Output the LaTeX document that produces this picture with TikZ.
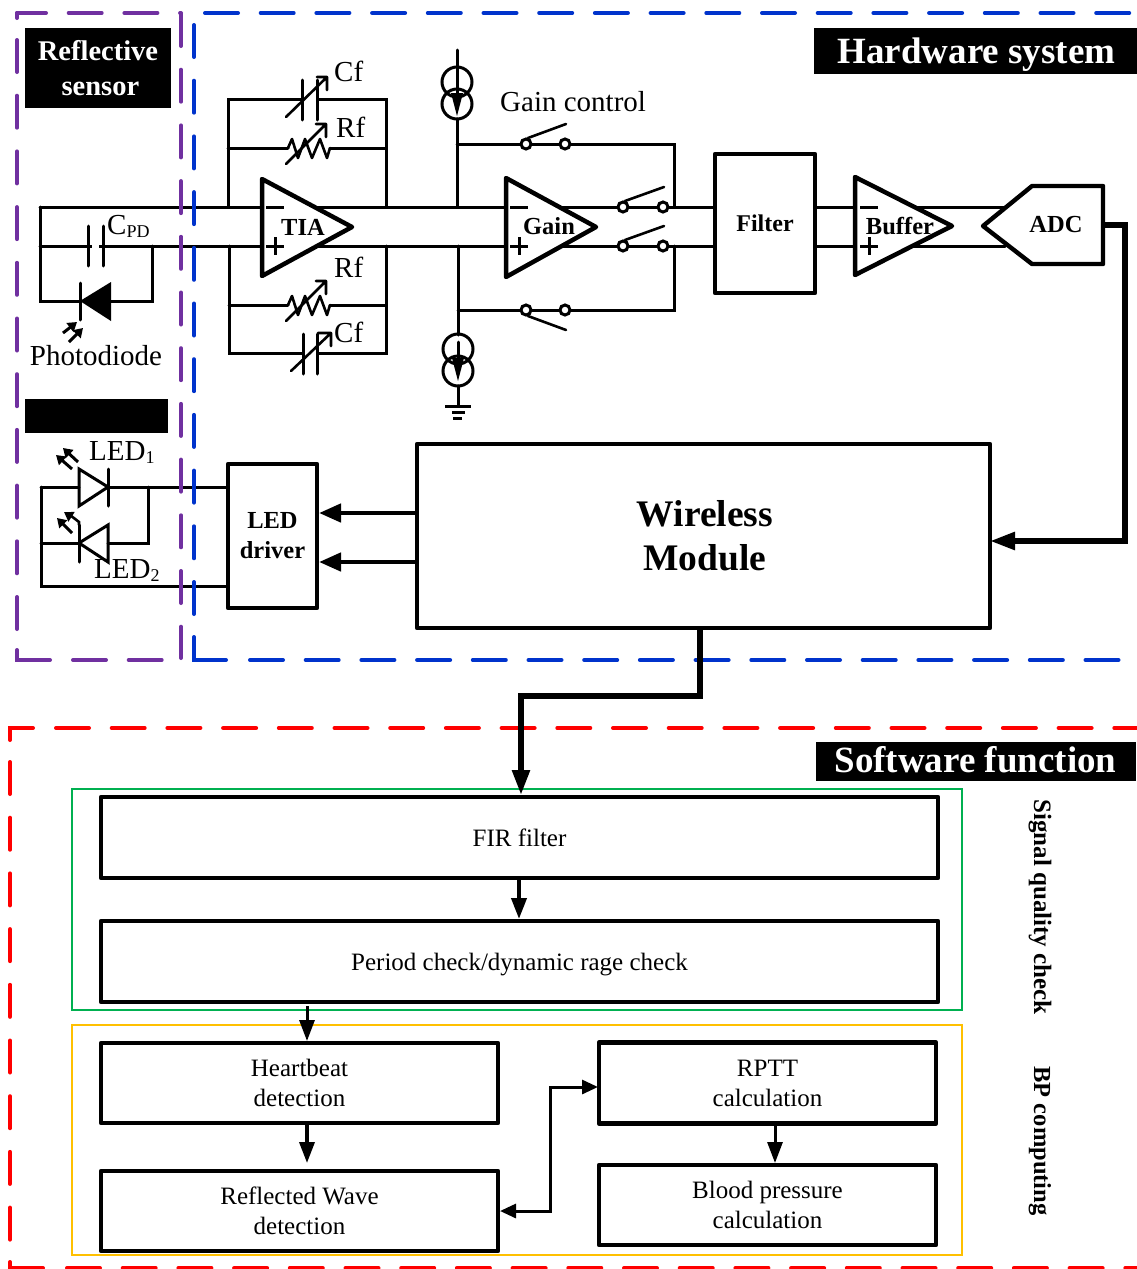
\documentclass[tikz,border=0pt]{standalone}
\usepackage{fontspec}
\setmainfont{Liberation Serif}
\usetikzlibrary{arrows.meta}
\definecolor{purp}{HTML}{7030A0}
\definecolor{blu}{HTML}{0033CC}
\definecolor{grn}{HTML}{00B050}
\definecolor{org}{HTML}{FFC000}
\newcommand\fs[1]{\fontsize{#1}{#1}\selectfont}
\newcommand\sbs[1]{\raisebox{-3.5pt}{\fs{18}#1}}
\tikzset{
  wire/.style={line width=3pt,line join=miter,line cap=round},
  thinw/.style={line width=2.6pt,line join=round,line cap=round},
  amp/.style={line width=4.5pt,line join=round,fill=white,draw},
  blk/.style={draw,line width=4.4pt,fill=white,inner sep=0pt,outer sep=0pt,line join=round,align=center},
  dsh/.style={line width=4pt,line cap=round,dash pattern=on 32pt off 23.7pt},
  dsh2/.style={line width=4pt,line cap=round,dash pattern=on 33pt off 22.7pt},
  sld/.style={line width=4pt,line cap=round,line join=miter},
  lab/.style={inner sep=0pt,font=\fs{29}},
  blab/.style={inner sep=0pt,font=\bfseries\fs{24.5}},
  tag/.style={fill=black,text=white,inner sep=0pt,outer sep=0pt,align=center,font=\bfseries},
  tagt/.style={text=white,inner sep=0pt,anchor=base,font=\bfseries\fs{37}},
  boxt/.style={font=\fontsize{25}{30}\selectfont},
  grp/.style={draw,line width=1.8pt},
  bigar/.style={line width=5.5pt,line join=miter,-{Triangle[length=25pt,width=17pt]}},
  midar/.style={line width=4.5pt,line join=miter,-{Triangle[length=22pt,width=18pt]}},
  smlar/.style={line width=3pt,line join=miter,-{Triangle[length=21pt,width=15pt]}},
  tinar/.style={line width=3pt,-{Triangle[length=9pt,width=11pt]}},
  sw/.style={circle,draw,line width=3pt,fill=white,minimum size=10pt,inner sep=0pt,outer sep=0pt},
  src/.style={circle,draw,line width=3pt,minimum size=30pt,inner sep=0pt,outer sep=0pt},
}
% variable resistor: centre of wire at #1,#2
\newcommand\varres[2]{\begin{scope}[shift={(#1,#2)}]
 \draw[thinw] (0,0)--(4,-9)--(10,10)--(17,-9)--(24,10)--(32,-9)--(39,10)--(42,0);
 \draw[thinw] (-2,16)--(38,-24) (28,-24)--(38,-24)--(38,-11);
\end{scope}}
\newcommand\plusminus[2]{\draw[line width=3pt] (#1,207)--(#1+18,207) (#1,#2)--(#1+18,#2) (#1+9,#2-9)--(#1+9,#2+9);}
\begin{document}
\begin{tikzpicture}[x=1pt,y=-1pt]
\useasboundingbox[fill=white] (0,0) rectangle (1137,1269);

% ---- junction coordinates of the analog front end
\foreach \n/\x/\y in {
 pdTL/40/207,pdML/40/246,pdBL/40/301,pdBR/152/301,pdMR/152/246,
 capA/88/246,capB/103/246,diK/80/301,diA/111/301,
 tiaT/262/207,tiaB/262/246,tiaOT/314/207,tiaOB/314/246,
 fbTL/228/207,fbTLt/228/99,fbTLm/228/148,fbTR/386/207,fbTRt/386/99,fbTRm/386/148,
 fbBL/229/246,fbBLb/229/353,fbBLm/229/305,fbBR/386/246,fbBRb/386/353,fbBRm/386/305,
 cfA/302/99,cfB/317/99,rfA/288/148,rfB/330/148,rfC/288/305,rfD/330/305,cfC/303/353,cfD/317/353,
 gnT/506/207,gnB/506/246,jT/457/207,jB/458/246,
 vdd/457/50,srcTop/457/119,jS1/457/144,jS2/458/310,srcBot/458/335,srcOut/458/386,gndP/458/406,
 gnOT/560/207,gnOB/560/246,fiT/715/207,fiB/715/246,sr1/674/144,sr2/674/207,sr3/674/246,sr4/674/310,
 fiOT/815/207,fiOB/815/246,bfT/855/207,bfB/855/246,bfOT/914/207,bfOB/914/246,adT/1005/207,adB/1005/246,
 ledL/41/487,ledLb/41/586,ledM/41/543,led1A/79/487,led1K/108/487,led2K/79/543,led2A/108/543,ledRj/148/487,ledRb/148/543,
 dr1/228/487,dr2/228/586}
 {\coordinate (\n) at (\x,\y);}

% ---- wires
\draw[wire] (pdTL)--(tiaT) (pdML)--(tiaB);
\draw[wire] (pdTL)--(pdBL)--(diK) (diA)--(pdBR)--(pdMR);
\draw[wire] (fbTL)--(fbTLt)--(cfA) (cfB)--(fbTRt)--(fbTR);
\draw[wire] (fbTLm)--(rfA) (rfB)--(fbTRm);
\draw[wire] (fbBL)--(fbBLb)--(cfC) (cfD)--(fbBRb)--(fbBR);
\draw[wire] (fbBLm)--(rfC) (rfD)--(fbBRm);
\draw[wire] (tiaOT)--(gnT) (tiaOB)--(gnB);
\draw[wire] (srcTop)--(jT) (jB)--(srcBot) (srcOut)--(gndP);
\draw[wire] (vdd)--(457,95);
\draw[wire] (458,342)--(458,358);
\draw[wire] (jS1)--(sr1)--(sr2) (sr3)--(sr4)--(jS2);
\draw[wire] (gnOT)--(fiT) (gnOB)--(fiB);
\draw[wire] (fiOT)--(bfT) (fiOB)--(bfB) (bfOT)--(adT) (bfOB)--(adB);
\draw[wire] (ledL)--(led1A) (led1K)--(dr1) (ledM)--(led2K) (led2A)--(ledRb)--(ledRj);
\draw[wire] (ledL)--(ledLb)--(dr2);

% ---- capacitor with photodiode
\draw[line width=6pt,white] (92,246)--(99,246);
\draw[wire] (88,226)--(88,266) (103,226)--(103,266);
\draw[wire] (80,283)--(80,320);
\fill (80,301)--(111,282)--(111,321)--cycle;
\draw[tinar] (63,333)--(77,322);
\draw[tinar] (69,342)--(83,328);

% ---- feedback parts
\draw[line width=2pt,white] (cfA)--(cfB) (cfC)--(cfD);
\draw[wire] (302,80)--(302,120) (317,80)--(317,120);
\draw[thinw] (286,117)--(327,77) (317,77)--(327,77)--(327,90);
\varres{288}{148}
\varres{288}{305}
\draw[wire] (303,334)--(303,374) (317,334)--(317,374);
\draw[thinw] (291,371)--(331,333) (318,333)--(331,333)--(331,346);

% ---- switches
\foreach \nm/\xa/\xb/\yy/\d in {sa/526/565/144/-1,sb/526/565/310/1,sc/623/663/207/-1,sd/623/663/246/-1}{
 \draw[thinw] (\xa+2,\yy+\d*6)--(\xb+1,\yy+\d*20);
 \node[sw] (\nm1) at (\xa,\yy) {};
 \node[sw] (\nm2) at (\xb,\yy) {};
}

% ---- current sources and ground
\node[src] (s1) at (457,82) {};
\node[src] (s2) at (457,104) {};
\fill (451,93)--(463,93)--(457,116)--cycle;
\node[src] (s3) at (458,349) {};
\node[src] (s4) at (458,371) {};
\fill (452,358)--(464,358)--(458,381)--cycle;
\draw[line width=3pt] (445,406)--(471,406) (452,412)--(465,412) (453,418)--(462,418);

% ---- LEDs
\draw[line width=3pt,line join=miter] (79,469)--(79,506)--(108,487)--cycle;
\draw[wire] (108,469)--(108,506);
\draw[tinar] (72,469)--(56,455);
\draw[tinar] (78,462)--(63,448);
\draw[line width=3pt,line join=miter] (108,525)--(108,562)--(79,543)--cycle;
\draw[wire] (79,525)--(79,562);
\draw[tinar] (72,533)--(57,518);
\draw[line width=2.6pt,line join=miter] (79,525)--(79,522)--(70,515);
\draw[tinar] (71,516.5)--(64,512);

% ---- amplifiers
\draw[amp] (262,179)--(352,227)--(262,276)--cycle;
\plusminus{266}{246}
\node[blab] (tia) at (303,227) {TIA};
\draw[amp] (506,178)--(596,227)--(506,277)--cycle;
\plusminus{510}{246}
\node[blab] (gain) at (549,226) {Gain};
\draw[amp] (855,177)--(952,226)--(855,275)--cycle;
\plusminus{860}{246}
\node[blab] (buf) at (900,226) {Buffer};

% ---- blocks
\node[blk,minimum width=100pt,minimum height=139pt,font=\bfseries\fs{24}] (fil) at (765,223.5) {Filter};
\draw[line width=4.4pt,line join=round,fill=white] (983,226)--(1032,186)--(1103,186)--(1103,264)--(1032,264)--cycle;
\node[blab] (adc) at (1056,225) {ADC};
\coordinate (adcO) at (1103,225);
\node[blk,minimum width=573pt,minimum height=184pt,font=\bfseries\fontsize{37.5}{44}\selectfont] (wm) at (703.5,536) {\hspace*{3pt}Wireless\\\hspace*{3pt}Module};
\node[blk,minimum width=89pt,minimum height=144pt,font=\bfseries\fontsize{24.5}{30}\selectfont] (drv) at (272.5,536) {LED\\driver};

% ---- thick connectors of the hardware part
\draw[bigar] (adcO)--(1125,225)--(1125,541)--(wm.east |- 0,541);
\draw[midar] (wm.west |- 0,513)--([xshift=2pt]drv.east |- 0,513);
\draw[midar] (wm.west |- 0,562)--([xshift=2pt]drv.east |- 0,562);

% ---- dashed frames
\draw[purp,dsh2,dash phase=4pt] (17,13)--(181,13);
\draw[purp,sld] (17,13)--(17,18);
\draw[purp,dsh] (17,40)--(17,634);
\draw[purp,sld] (17,650)--(17,660)--(50,660);
\draw[purp,dsh2] (73,660)--(165,660);
\draw[purp,dsh,dash pattern=on 32pt off 23.7pt,dash phase=0pt] (181,14)--(181,658);
\draw[blu,dsh] (194,25)--(194,620);
\draw[blu,sld] (194,637)--(194,660)--(226,660);
\draw[blu,dsh2] (250,660)--(1120,660);
\draw[blu,dsh2] (205,13)--(1137,13);
\draw[red,sld] (10,740)--(10,728)--(33,728);
\draw[red,dsh2] (56,728)--(1137,728);
\draw[red,dsh] (10,762)--(10,1245);
\draw[red,sld] (10,1262)--(10,1268)--(43,1268);
\draw[red,dsh2] (67,1268)--(1137,1268);

% ---- black title bars
\node[tag,minimum width=146pt,minimum height=80pt,font=\bfseries\fontsize{28.5}{34.5}\selectfont] (refl) at (98,68) {Reflective\\\,sensor};
\node[tag,minimum width=143pt,minimum height=34pt] (ledbar) at (96.5,416) {};
\node[tag,minimum width=323pt,minimum height=46pt] (hw) at (975.5,51) {};
\node[tagt] (hwt) at (976.5,63) {Hardware system};
\node[tag,minimum width=320pt,minimum height=39pt] (sf) at (976,761.5) {};
\node[tagt] (sft) at (975.5,772.5) {Software function};

% ---- labels
\node[lab,anchor=base west] (lcf1) at (334,81) {Cf};
\node[lab,anchor=base west] (lrf1) at (336,137) {Rf};
\node[lab,anchor=base west] (lrf2) at (334,277) {Rf};
\node[lab,anchor=base west] (lcf2) at (334,342) {Cf};
\node[lab,anchor=base west] (lcpd) at (107,234) {C\sbs{PD}};
\node[lab,anchor=base] (lpd) at (96,365) {Photodiode};
\node[lab,anchor=base west] (lgc) at (500,111) {Gain control};
\node[lab,anchor=base west] (ll1) at (89,460) {LED\sbs{1}};
\node[lab,anchor=base west] (ll2) at (94,578) {LED\sbs{2}};

% ---- software part
\node[grp,grn,minimum width=890pt,minimum height=221pt] (gq) at (517,899.5) {};
\node[grp,org,minimum width=890pt,minimum height=230pt] (gb) at (517,1140) {};
\node[blk,boxt,minimum width=837pt,minimum height=81pt] (fir) at (519.5,837.5) {FIR filter};
\node[blk,boxt,minimum width=837pt,minimum height=81pt,text depth=0pt] (per) at (519.5,961.5) {Period check/dynamic rage check};
\node[blk,boxt,minimum width=397pt,minimum height=80pt] (hb) at (299.5,1083) {Heartbeat\\detection};
\node[blk,boxt,minimum width=397pt,minimum height=80pt] (rw) at (299.5,1211) {Reflected Wave\\detection};
\node[blk,boxt,minimum width=337pt,minimum height=81pt] (rp) at (767.5,1083) {RPTT\\calculation};
\node[blk,boxt,minimum width=337pt,minimum height=80pt] (bp) at (767.5,1205) {Blood pressure\\calculation};
\node[inner sep=0pt,rotate=-90,font=\bfseries\fs{25}] (sq) at (1040,907) {Signal quality check};
\node[inner sep=0pt,rotate=-90,font=\bfseries\fs{24.5}] (bc) at (1040,1141) {BP computing};

% ---- software connectors
\draw[bigar] (wm.south -| 700,0)--(700,696)--(521,696)--([yshift=2pt]fir.north -| 521,0);
\draw[smlar,line width=4pt] (fir.south -| 519,0)--([yshift=2pt]per.north -| 519,0);
\draw[smlar] (307,1006)--([yshift=2pt]hb.north -| 307,0);
\draw[smlar,line width=3.5pt] (hb.south -| 307,0)--(307,1163);
\draw[smlar] (rp.south -| 775,0)--([yshift=2pt]bp.north -| 775,0);
\draw[line width=3pt,line join=miter,{Triangle[length=16pt,width=14pt]}-{Triangle[length=16pt,width=14pt]}] ([xshift=2pt]rw.east |- 0,1211)--(550,1211)--(550,1087)--([xshift=-1pt]rp.west |- 0,1087);
\end{tikzpicture}
\end{document}
